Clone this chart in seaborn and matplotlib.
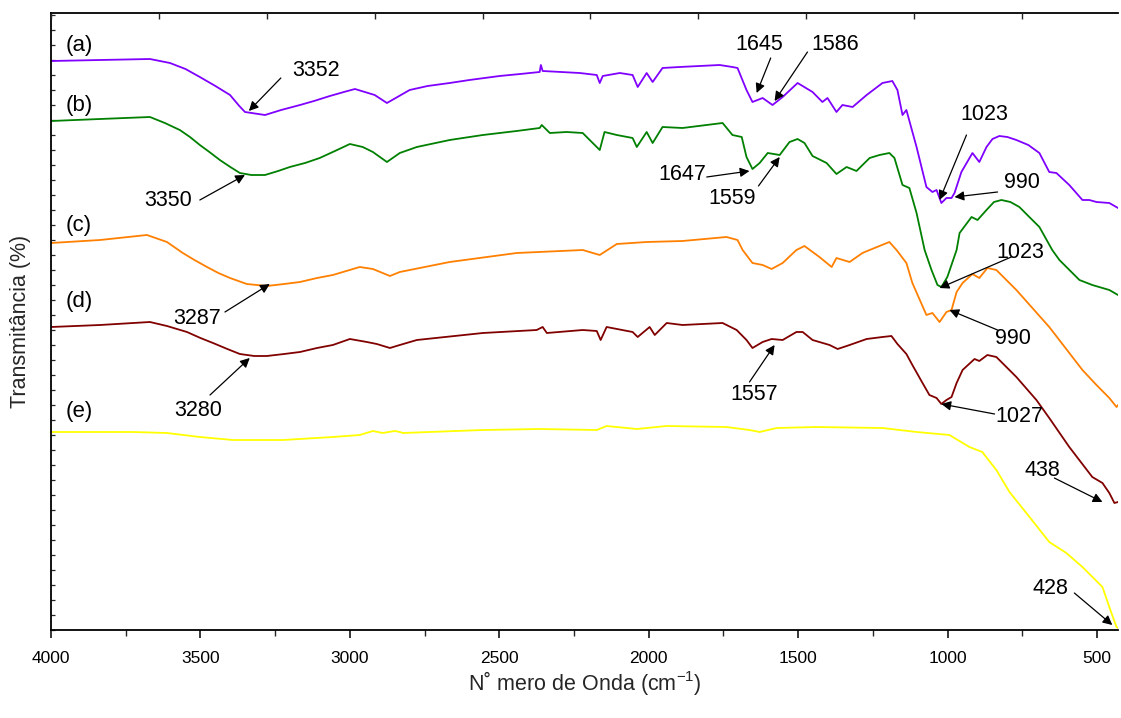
import matplotlib
matplotlib.use("Agg")
import matplotlib.pyplot as plt
from matplotlib.ticker import MultipleLocator, FixedLocator, NullFormatter
import numpy as np
import pandas as pd
import seaborn as sns

# ---------------- data (wavenumber cm-1, offset transmittance a.u.) ----------------
wn_a = [4000, 3836, 3669, 3602, 3550, 3502, 3450, 3401, 3370, 3351, 3284, 3230, 3167, 3120,
        3067, 3020, 2983, 2950, 2917, 2876, 2800, 2740,
        2666, 2600, 2499, 2430, 2365, 2361, 2355, 2231, 2174, 2164, 2154, 2097, 2054, 2037, 2007, 1987,
        1954, 1897, 1763, 1720, 1703, 1673, 1653, 1619, 1586, 1552, 1502, 1452, 1419, 1402,
        1372, 1352, 1318, 1271, 1218, 1185, 1168, 1151, 1138, 1104, 1071, 1051, 1037, 1021,
        1004, 987, 977, 954, 917, 894, 870, 850, 827, 800, 770, 730, 693, 660, 636, 593,
        549, 526, 502, 459, 430]
t_a = [569, 570, 571, 567, 561, 553, 544, 535, 524, 518, 515, 520, 525, 529,
       534, 538, 541, 538, 535, 527, 540, 544,
       547, 550, 554, 556, 558, 565, 559, 557, 555, 547, 554, 557, 555, 543, 557, 548,
       562, 563, 565, 563, 562, 540, 528, 532, 525, 533, 547, 538, 528, 532,
       518, 525, 523, 535, 547, 549, 540, 515, 520, 483, 443, 438, 440, 427,
       432, 432, 437, 458, 477, 468, 483, 491, 494, 493, 490, 485, 477, 458, 457, 445,
       430, 430, 428, 427, 422]

wn_b = [4000, 3836, 3669, 3619, 3569, 3535, 3502, 3470, 3435, 3400, 3368, 3330, 3284, 3240,
        3201, 3150, 3101, 3050, 3000, 2957, 2923,
        2876, 2833, 2776, 2666, 2555, 2442, 2365, 2358, 2331, 2275, 2221, 2164, 2148, 2107,
        2054, 2040, 2007, 1987, 1954, 1887, 1753, 1720, 1689, 1673, 1653, 1629, 1602, 1562,
        1529, 1502, 1479, 1452, 1405, 1372, 1338, 1305, 1261, 1228, 1195, 1178, 1151, 1128,
        1104, 1077, 1054, 1034, 1021, 1001, 970, 960, 920, 900, 870, 845, 820, 790, 760, 730,
        693, 650, 626, 559, 516, 459, 430]
t_b = [509, 511, 513, 507, 500, 493, 485, 478, 470, 463, 457, 455, 455, 459,
       463, 467, 472, 479, 486, 483, 478,
       468, 477, 483, 490, 495, 499, 502, 505, 497, 498, 497, 480, 498, 495,
       492, 483, 498, 487, 503, 502, 507, 495, 493, 473, 461, 467, 477, 475,
       488, 491, 487, 474, 467, 456, 463, 459, 472, 475, 477, 472, 445, 442,
       417, 380, 360, 345, 343, 353, 380, 397, 413, 410, 420, 428, 430, 428, 423, 414,
       403, 380, 370, 350, 345, 340, 335]

wn_c = [4000, 3836, 3679, 3612, 3559, 3520, 3478, 3440, 3401, 3345, 3278, 3220, 3167, 3110,
        3057, 2967, 2923, 2866,
        2833, 2666, 2442, 2221, 2164, 2107, 2007, 1887, 1740, 1703, 1686, 1653, 1619, 1589,
        1552, 1506, 1479, 1429, 1388, 1372, 1328, 1285, 1261, 1195, 1171, 1138, 1118, 1071,
        1051, 1027, 1004, 987, 970, 950, 917, 894, 867, 837, 770, 660, 549, 502, 459, 435, 430]
t_c = [387, 390, 395, 388, 377, 370, 363, 357, 352, 346, 344, 346, 348, 352,
       355, 363, 361, 354,
       358, 368, 377, 380, 375, 386, 388, 389, 393, 390, 380, 367, 365, 361,
       367, 380, 384, 373, 363, 372, 368, 377, 380, 388, 380, 367, 347, 315,
       317, 308, 318, 320, 338, 347, 356, 352, 362, 360, 340, 303, 260, 245, 232, 223, 225]

wn_d = [4000, 3836, 3669, 3612, 3545, 3500, 3458, 3410, 3368, 3320, 3278, 3220, 3167, 3110,
        3057, 3000, 2943, 2910, 2866,
        2833, 2776, 2555, 2375, 2355, 2341, 2221, 2174, 2161, 2141, 2054, 2037, 1997, 1980,
        1940, 1887, 1753, 1706, 1673, 1653, 1619, 1589, 1552, 1506, 1485, 1452, 1395, 1368,
        1328, 1271, 1218, 1188, 1168, 1138, 1118, 1084, 1061, 1037, 1021, 1004, 987, 970,
        950, 910, 894, 867, 837, 770, 703, 660, 593, 516, 482, 459, 442, 430]
t_d = [303, 305, 308, 304, 298, 292, 287, 281, 276, 274, 274, 276, 278, 282,
       285, 291, 288, 286, 282,
       285, 290, 297, 300, 303, 297, 300, 299, 290, 303, 298, 293, 303, 295,
       307, 305, 307, 300, 290, 282, 288, 291, 290, 298, 298, 290, 285, 281,
       285, 291, 293, 294, 286, 276, 265, 247, 235, 232, 226, 230, 233, 247,
       260, 271, 269, 275, 273, 253, 230, 212, 183, 153, 147, 137, 127, 128]

wn_e = [4000, 3726, 3612, 3502, 3391, 3224, 3057, 2967, 2923, 2890, 2850, 2833, 2823, 2555,
        2365, 2174, 2141, 2040, 1940, 1740, 1663, 1629, 1572, 1439, 1218, 1104, 994, 927,
        884, 837, 793, 726, 660, 603, 549, 482, 452, 435, 430]
t_e = [198, 198, 197, 193, 190, 190, 193, 195, 199, 197, 199, 198, 197, 200,
       201, 200, 204, 201, 204, 203, 200, 198, 202, 203, 202, 198, 195, 183,
       178, 160, 138, 113, 88, 77, 63, 43, 17, 3, 2]

series_names = ["(a)", "(b)", "(c)", "(d)", "(e)"]
series_colors = ["#8000FF", "#008000", "#FF8000", "#800000", "#FFFF00"]

# label positions (T) for the series letters
letter_y = [584, 525, 405, 328, 218]

# peak annotations: text, text position, arrow tail, arrow head
ann_text = ["3352", "3350", "3287", "3280", "1645", "1586", "1647", "1559",
            "1023", "990", "1023", "990", "1557", "1027", "438", "428"]
ann_txt_xy = [(3114, 559), (3609, 430), (3512, 312), (3508, 220), (1629, 586), (1375, 586),
              (1887, 455), (1720, 431), (877, 515), (753, 447), (757, 378), (783, 292),
              (1646, 235), (760, 214), (683, 160), (656, 42)]
ann_tail = [(3231, 552), (3502, 430), (3418, 318), (3468, 235), (1592, 572), (1469, 578),
            (1806, 453), (1633, 444), (937, 495), (833, 438), (787, 373), (833, 300),
            (1663, 248), (843, 216), (643, 152), (576, 37)]
ann_head = [(3338, 519), (3351, 455), (3268, 346), (3335, 272), (1639, 537), (1579, 529),
            (1663, 459), (1562, 473), (1027, 430), (977, 433), (1027, 342), (994, 320),
            (1579, 285), (1021, 226), (482, 128), (449, 5)]

top_ticks = [4000, 3639, 3278, 2917, 2556, 2195, 1834, 1473, 1112, 751]

# ---------------- build dataframe ----------------
frames = []
for name, w, t in zip(series_names,
                      [wn_a, wn_b, wn_c, wn_d, wn_e],
                      [t_a, t_b, t_c, t_d, t_e]):
    frames.append(pd.DataFrame({"wn": w, "T": t, "amostra": name}))
df = pd.concat(frames, ignore_index=True)

# ---------------- plotting ----------------
sns.set_theme(style="white")
plt.rcParams["font.family"] = ["Liberation Sans", "DejaVu Sans"]
plt.rcParams["mathtext.fontset"] = "custom"
plt.rcParams["mathtext.rm"] = "Liberation Sans"

fig = plt.figure(figsize=(11.21, 7.18), dpi=100)
ax = fig.add_axes([51 / 1121, 1 - 630 / 718, (1118 - 51) / 1121, (630 - 13) / 718])

sns.lineplot(data=df, x="wn", y="T", hue="amostra", palette=dict(zip(series_names, series_colors)),
             estimator=None, sort=False, linewidth=1.3, legend=False, ax=ax)

ax.set_xlim(4000, 430)
ax.set_ylim(0, 617)

# spines
for s in ["left", "bottom", "top"]:
    ax.spines[s].set_visible(True)
    ax.spines[s].set_color("black")
    ax.spines[s].set_linewidth(1.3)
ax.spines["right"].set_visible(False)

ax.xaxis.set_major_locator(MultipleLocator(500))
ax.xaxis.set_minor_locator(MultipleLocator(250))
ax.tick_params(axis="x", which="major", direction="out", length=6, width=1.1, labelsize=12.5,
               bottom=True, top=False, colors="black", pad=9)
ax.tick_params(axis="x", which="minor", direction="out", length=4, width=1.0, bottom=True, top=False)

ax.yaxis.set_major_locator(MultipleLocator(15))
ax.yaxis.set_major_formatter(NullFormatter())
ax.tick_params(axis="y", which="major", direction="in", length=3, width=0.9, left=True, right=False)

# top axis with its own tick spacing
ax_top = ax.twiny()
ax_top.set_xlim(ax.get_xlim())
ax_top.xaxis.set_major_locator(FixedLocator(top_ticks))
ax_top.xaxis.set_major_formatter(NullFormatter())
ax_top.tick_params(axis="x", direction="in", length=4, width=1.0, top=True, bottom=False)
for s in ax_top.spines.values():
    s.set_visible(False)

ax.set_xlabel("N˚ mero de Onda (cm$^{-1}$)", fontsize=15.5, labelpad=2)
ax.set_ylabel("Transmitância (%)", fontsize=15.5, labelpad=11)

# series letters
for name, y in zip(series_names, letter_y):
    ax.text(3950, y, name, fontsize=16, ha="left", va="center", color="black")

# peak annotations
for txt, pos, tail, head in zip(ann_text, ann_txt_xy, ann_tail, ann_head):
    ax.text(pos[0], pos[1], txt, fontsize=15.5, ha="center", va="center", color="black")
    ax.annotate("", xy=head, xytext=tail,
                arrowprops=dict(arrowstyle="-|>", color="black", lw=0.9,
                                mutation_scale=14, shrinkA=0, shrinkB=0))

fig.savefig("out.png", dpi=100)
